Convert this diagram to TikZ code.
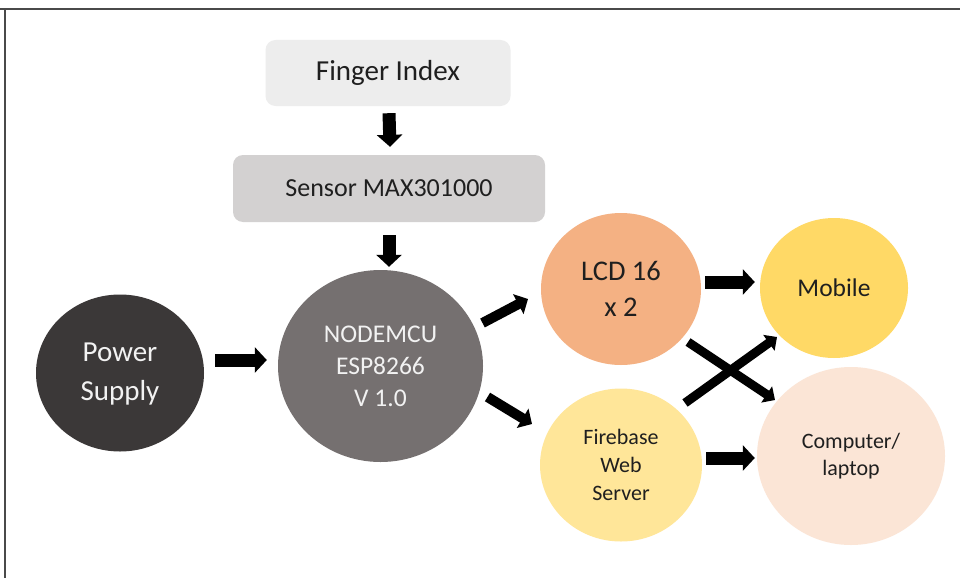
\documentclass[tikz,border=0pt]{standalone}
\usepackage{fontspec}
\setmainfont{Carlito}
\usetikzlibrary{shapes.geometric,arrows.meta}
\definecolor{fingc}{HTML}{EDEDED}
\definecolor{sensc}{HTML}{D3D1D1}
\definecolor{powc}{HTML}{3B3838}
\definecolor{nodec}{HTML}{757070}
\definecolor{lcdc}{HTML}{F4B183}
\definecolor{mobc}{HTML}{FFD966}
\definecolor{firec}{HTML}{FFE699}
\definecolor{compc}{HTML}{FBE5D6}
\definecolor{txtc}{HTML}{1F1F1F}
\definecolor{wtxt}{HTML}{F2F2F2}
\definecolor{framec}{HTML}{4A4A4A}
\tikzset{
  rbox/.style={rectangle, rounded corners=10pt, inner sep=0pt, text=txtc},
  circ/.style={ellipse, inner sep=0pt, align=center, text=txtc},
  blk/.style={line width=13pt, -{Triangle[length=12pt,width=25pt]}},
  blkd/.style={line width=10pt, -{Triangle[length=11pt,width=22pt]}},
  blkx/.style={line width=9pt, -{Triangle[length=10pt,width=19pt]}},
}
\begin{document}
\begin{tikzpicture}[x=1pt,y=-1pt]
\useasboundingbox (0,0) rectangle (960,578);
\fill[white] (0,0) rectangle (960,578);
\draw[framec, line width=1.5pt] (0,9) -- (960,9);
\draw[framec, line width=1.5pt] (5,9) -- (5,578);

\node[rbox, fill=fingc, minimum width=245pt, minimum height=66pt,
  font=\fontsize{29}{34}\selectfont] (fi) at (388,73) {Finger Index};
\node[rbox, fill=sensc, minimum width=312pt, minimum height=67pt,
  font=\fontsize{26}{31}\selectfont] (se) at (389,188.5) {Sensor MAX301000};

\node[circ, fill=powc, text=wtxt, minimum width=168pt, minimum height=157pt,
  font=\fontsize{29}{38}\selectfont] (pw) at (120,373) {\raisebox{-3pt}{\begin{tabular}{@{}c@{}}Power\\[1pt]Supply\end{tabular}}};
\node[circ, fill=nodec, text=wtxt, minimum width=205pt, minimum height=192pt,
  font=\fontsize{25.5}{32}\selectfont] (nm) at (380.5,366) {NODEMCU\\ESP8266\\V 1.0};
\node[circ, fill=lcdc, minimum width=160pt, minimum height=152pt,
  font=\fontsize{28.5}{36}\selectfont] (lcd) at (621,289) {LCD 16\\x 2};
\node[circ, fill=firec, minimum width=162pt, minimum height=153pt,
  font=\fontsize{22}{28}\selectfont] (fb) at (621,465) {Firebase\\Web\\Server};
\node[circ, fill=mobc, minimum width=148pt, minimum height=140pt,
  font=\fontsize{25.5}{31}\selectfont] (mob) at (834,288) {Mobile};
\node[circ, fill=compc, minimum width=188pt, minimum height=178pt,
  font=\fontsize{22}{27}\selectfont] (comp) at (851,456) {Computer/\\laptop};

% arrows
\draw[blk] ([shift={(1,7)}]fi.south) -- ([shift={(1,-8)}]se.north);
\draw[blk] ([shift={(0,13)}]se.south) -- ([shift={(8.5,-3)}]nm.north);
\draw[blk] ([shift={(11,-13)}]pw.east) -- ([shift={(-11,-6)}]nm.west);
\draw[blkd] ([shift={(102,-43)}]nm.center) -- ([shift={(-93,10)}]lcd.center);
\draw[blkd] ([shift={(107,31)}]nm.center) -- ([shift={(-89,-41)}]fb.center);
\draw[blk] ([shift={(4,-7)}]lcd.east) -- ([shift={(-5,-6)}]mob.west);
\draw[blk] ([shift={(4,-7)}]fb.east) -- ([shift={(-2,2)}]comp.west);
\draw[blkx] ([shift={(67,53)}]lcd.center) -- ([shift={(-76,-56)}]comp.center);
\draw[blkx] ([shift={(64,-62)}]fb.center) -- ([shift={(-57,49)}]mob.center);
\end{tikzpicture}
\end{document}
